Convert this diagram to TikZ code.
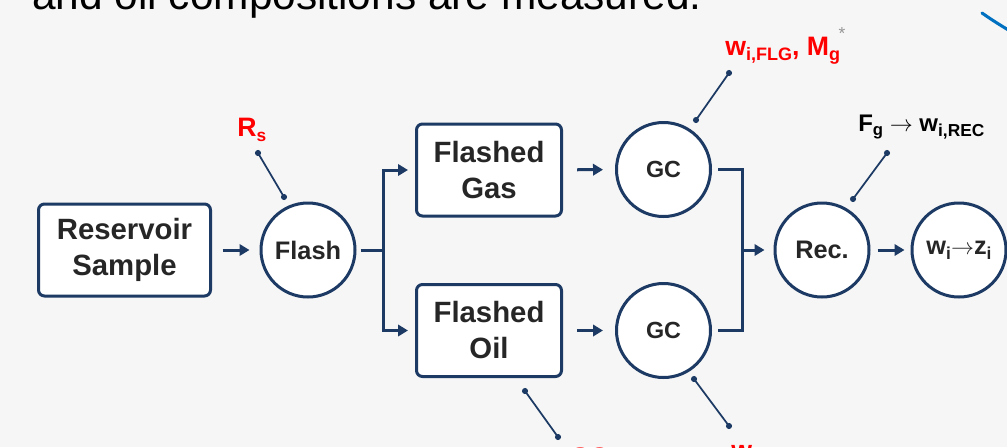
\documentclass[tikz,border=0pt]{standalone}
\usepackage{fontspec}
\setmainfont{Liberation Sans}
\usetikzlibrary{arrows.meta}
\definecolor{navy}{RGB}{28,58,100}
\definecolor{txt}{RGB}{38,38,38}
\definecolor{lblred}{RGB}{255,0,0}
\definecolor{bg}{RGB}{246,246,246}
\definecolor{arcblue}{RGB}{0,112,192}
\definecolor{stargray}{RGB}{150,150,150}
\newcommand{\Sb}[3]{\raisebox{#1}{\fontsize{#2}{#2}\selectfont #3}}
\tikzset{
  boxnode/.style={draw=navy, line width=2.25pt, fill=white, rounded corners=4.5pt,
    minimum width=108.75pt, minimum height=69pt, inner sep=0pt, align=center,
    text=txt, font=\bfseries\fontsize{22}{27}\selectfont},
  circnode/.style={draw=navy, line width=2.25pt, fill=white, circle,
    minimum size=70.5pt, inner sep=0pt, text=txt, align=center},
  conn/.style={draw=navy, line width=2.25pt},
  arr/.style={conn, -{Triangle[length=7.5pt,width=8.5pt]}},
  pinline/.style={draw=navy, line width=1.3pt},
  pindot/.style={fill=navy},
  redlbl/.style={text=lblred, font=\bfseries\fontsize{20}{24}\selectfont, inner sep=0pt, anchor=base west},
  blklbl/.style={text=black, font=\bfseries\fontsize{18}{22}\selectfont, inner sep=0pt, anchor=base west},
}
\begin{document}
\begin{tikzpicture}[x=0.75pt,y=-0.75pt]
\useasboundingbox (0,0) rectangle (1007,447);
\clip (0,0) rectangle (1007,447);
\fill[bg] (0,0) rectangle (1007,447);

% heading fragment (cut by the top edge, as in the reference)
\node[anchor=base west, inner sep=0pt, font=\fontsize{31.8}{36}\selectfont, text=black] (head) at (32,9) {and oil compositions are measured.};
% blue annotation arc fragment
\coordinate (arcA) at (982,13);
\coordinate (arcB) at (1010,31);
\draw[arcblue, line width=2.3pt, line cap=round] (arcA) .. controls (992,20) and (1000,25) .. (arcB);

% main nodes
\node[boxnode, minimum width=129pt] (res) at (124.5,250) {Reservoir\\Sample};
\node[circnode, font=\bfseries\fontsize{19}{22}\selectfont] (flash) at (308,250) {Flash};
\node[boxnode] (gas) at (489,170) {Flashed\\Gas};
\node[boxnode] (oil) at (489,330.5) {Flashed\\Oil};
\node[circnode, font=\bfseries\fontsize{17.5}{22}\selectfont] (gc1) at (663.5,169.5) {GC};
\node[circnode, font=\bfseries\fontsize{17.5}{22}\selectfont] (gc2) at (663.5,330.5) {GC};
\node[circnode, font=\bfseries\fontsize{19}{22}\selectfont] (rec) at (822,250) {Rec.};
\node[circnode, font=\bfseries\fontsize{19}{22}\selectfont] (wz) at (959,250) {w\Sb{-3.5pt}{13}{i}$\rightarrow$z\Sb{-3.5pt}{13}{i}};

% junctions
\coordinate (br) at (383,250);
\coordinate (jn) at (742,250);

% connectors
\draw[arr, shorten <=8pt, shorten >=7.5pt] (res) -- (flash);
\draw[conn, shorten <=3pt] (flash) -- (br);
\draw[arr, shorten >=5.25pt] (br) |- (gas);
\draw[arr, shorten >=5.25pt] (br) |- (oil);
\draw[arr, shorten <=10.5pt, shorten >=9pt] (gas) -- (gc1);
\draw[arr, shorten <=10.5pt, shorten >=9pt] (oil) -- (gc2);
\draw[conn, shorten <=4.5pt] (gc1) -| (jn);
\draw[conn, shorten <=4.5pt] (gc2) -| (jn);
\draw[arr, shorten >=6.75pt] (jn) -- (rec);
\draw[arr, shorten <=5.25pt, shorten >=4.5pt] (rec) -- (wz);

% pins
\coordinate (rsA) at (258,153);   \coordinate (rsB) at (284,197);
\coordinate (flgA) at (729,73);   \coordinate (flgB) at (696,120);
\coordinate (recA) at (887,153);  \coordinate (recB) at (853,199);
\coordinate (oilA) at (525,391);  \coordinate (oilB) at (558,437);
\coordinate (gcA) at (694,379);   \coordinate (gcB) at (729,426);
\foreach \a/\b in {rsA/rsB, flgA/flgB, recA/recB, oilA/oilB, gcA/gcB}{
  \draw[pinline] (\a) -- (\b);
  \fill[pindot] (\a) circle (2.3pt);
  \fill[pindot] (\b) circle (2.3pt);
}

% labels
\node[redlbl] (rs) at (237,136) {R\Sb{-4pt}{13}{s}};
\node[redlbl] (flg) at (725,55) {w\Sb{-3.8pt}{13.5}{i,FLG}, M\Sb{-3.8pt}{13.5}{g}\kern-1pt\raisebox{12pt}{\textcolor{stargray}{\mdseries\fontsize{13}{13}\selectfont *}}};
\node[blklbl] (frec) at (858,131) {F\Sb{-3pt}{12.5}{g} $\rightarrow$ w\Sb{-4pt}{13}{i,REC}};
% labels cut by the bottom edge, as in the reference
\node[redlbl] (oillbl) at (571,466) {SG\Sb{-3.8pt}{13.5}{o}};
\node[redlbl] (flo) at (731,459) {w\Sb{-5pt}{13.5}{i,FLO}};
\end{tikzpicture}
\end{document}
